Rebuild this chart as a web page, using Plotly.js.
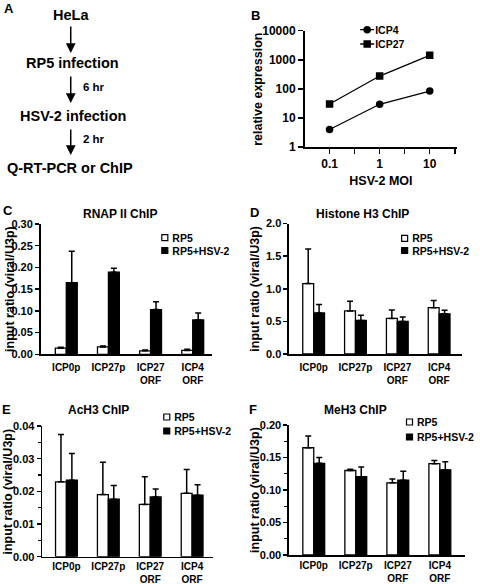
<!DOCTYPE html>
<html><head><meta charset="utf-8">
<script src="https://cdn.plot.ly/plotly-3.0.1.min.js"></script>
<style>
html,body{margin:0;padding:0;background:#fff}
/* compact square keys for the bar legends, close to their labels */
g.legendpoints path:not(.scatterpts){
  transform: translate(32.5px, 0px) scale(0.5) !important;
  stroke-width: 2.4px !important;
}
</style>
</head><body><div id="chart" style="width:480px;height:584px"></div>
<script>
// ---------- data ----------
const moi = [0.1, 1, 10];
const moiLabels = ['0.1', '1', '10'];
const icp4Expr = [4, 29.5, 84];
const icp27Expr = [30, 276, 1420];
const exprTicks = [1, 10, 100, 1000, 10000];
const exprTickLabels = ['1', '10', '100', '1000', '10000'];

const sites = ['ICP0p', 'ICP27p', 'ICP27<br>ORF', 'ICP4<br>ORF'];
const noLowerErr = [0, 0, 0, 0];

const rnapRP5 = [0.014, 0.017, 0.008, 0.009];
const rnapRP5Err = [0.002, 0.002, 0.002, 0.0025];
const rnapHSV = [0.165, 0.189, 0.103, 0.079];
const rnapHSVErr = [0.072, 0.009, 0.018, 0.016];

const h3RP5 = [1.08, 0.66, 0.545, 0.71];
const h3RP5Err = [0.53, 0.15, 0.13, 0.11];
const h3HSV = [0.63, 0.515, 0.5, 0.615];
const h3HSVErr = [0.13, 0.08, 0.066, 0.057];

const ach3RP5 = [0.0229, 0.0190, 0.0160, 0.0194];
const ach3RP5Err = [0.0145, 0.0099, 0.0085, 0.0073];
const ach3HSV = [0.0234, 0.0176, 0.0183, 0.0188];
const ach3HSVErr = [0.0082, 0.0042, 0.0024, 0.0032];

const meh3RP5 = [0.165, 0.130, 0.111, 0.1405];
const meh3RP5Err = [0.018, 0.002, 0.006, 0.005];
const meh3HSV = [0.141, 0.1205, 0.115, 0.131];
const meh3HSVErr = [0.009, 0.015, 0.014, 0.0125];

const seriesNames = ['RP5', 'RP5+HSV-2'];
const yTitleText = 'input ratio (viral/U3p)';

// ---------- helpers ----------
const W = 480, H = 584;
const fx = p => p / W;
const fy = p => 1 - p / H;
const FONT = '"Liberation Sans", Arial, Helvetica, sans-serif';

const axBase = {
  showline: true, linecolor: 'black', linewidth: 1.5,
  ticks: 'outside', tickcolor: 'black', tickwidth: 1.5, ticklen: 4,
  showgrid: false, zeroline: false, fixedrange: true,
  tickfont: {family: FONT, size: 11, weight: 'bold', color: 'black'}
};

function errBars(arr) {
  return {type: 'data', symmetric: false, array: arr, arrayminus: noLowerErr,
          color: 'black', thickness: 1.5, width: 3};
}
function barPair(xa, ya, legA, legB, a, aErr, b, bErr) {
  return [
    {type: 'bar', x: sites, y: a, name: seriesNames[0], xaxis: xa, yaxis: ya, legend: legA,
     marker: {color: 'white', line: {color: 'black', width: 1.3}}, error_y: errBars(aErr)},
    {type: 'bar', x: sites, y: b, name: seriesNames[1], xaxis: xa, yaxis: ya, legend: legB,
     marker: {color: 'black', line: {color: 'black', width: 1.3}}, error_y: errBars(bErr)}
  ];
}
// single-item legend: textX = left of the label text, cy = vertical centre of the item
function legendAt(textX, cy) {
  return {x: fx(textX - 37.5), y: fy(cy - 13.5), xanchor: 'left', yanchor: 'top',
          bgcolor: 'rgba(0,0,0,0)', borderwidth: 0, tracegroupgap: 0,
          font: {family: FONT, size: 10.5, weight: 'bold', color: 'black'}};
}

// ---------- traces ----------
const traces = [
  {type: 'scatter', mode: 'lines+markers', x: moi, y: icp4Expr, name: 'ICP4',
   xaxis: 'x', yaxis: 'y', legend: 'legend',
   line: {color: 'black', width: 1.3}, marker: {symbol: 'circle', size: 7.5, color: 'black'}},
  {type: 'scatter', mode: 'lines+markers', x: moi, y: icp27Expr, name: 'ICP27',
   xaxis: 'x', yaxis: 'y', legend: 'legend2',
   line: {color: 'black', width: 1.3}, marker: {symbol: 'square', size: 7.5, color: 'black'}},
  ...barPair('x2', 'y2', 'legend3', 'legend4', rnapRP5, rnapRP5Err, rnapHSV, rnapHSVErr),
  ...barPair('x3', 'y3', 'legend5', 'legend6', h3RP5, h3RP5Err, h3HSV, h3HSVErr),
  ...barPair('x4', 'y4', 'legend7', 'legend8', ach3RP5, ach3RP5Err, ach3HSV, ach3HSVErr),
  ...barPair('x5', 'y5', 'legend9', 'legend10', meh3RP5, meh3RP5Err, meh3HSV, meh3HSVErr)
];

// ---------- annotations ----------
const ann = [];
function txt(t, x, y, size, xanchor, angle) {
  ann.push({text: t, xref: 'paper', yref: 'paper', x: fx(x), y: fy(y),
            xanchor: xanchor || 'center', yanchor: 'middle', showarrow: false,
            textangle: angle || 0,
            font: {family: FONT, size: size, weight: 'bold', color: 'black'}});
}
function arrow(x, yTail, yTip) {
  ann.push({text: '', xref: 'paper', yref: 'paper', x: fx(x), y: fy(yTip),
            axref: 'pixel', ayref: 'pixel', ax: 0, ay: -(yTip - yTail),
            showarrow: true, arrowhead: 2, arrowsize: 1.3, arrowwidth: 1.5,
            arrowcolor: 'black', standoff: 0, startstandoff: 0});
}
// panel letters
txt('A', 2, 8, 13, 'left');
txt('B', 256, 15, 13, 'left');
txt('C', 1, 211, 13, 'left');
txt('D', 255, 212, 13, 'left');
txt('E', 0, 409, 13, 'left');
txt('F', 254, 409, 13, 'left');
// flowchart
txt('HeLa', 72.7, 15, 14.5);
arrow(72.7, 25, 53);
txt('RP5 infection', 74.7, 63, 14.5);
arrow(72.7, 75, 103);
txt('6 hr', 83, 87, 11.5, 'left');
txt('HSV-2 infection', 74.7, 116, 14.5);
arrow(72.7, 128, 155);
txt('2 hr', 83, 139, 11.5, 'left');
txt('Q-RT-PCR or ChIP', 72, 168, 14.5);
// panel titles
txt('RNAP II ChIP', 123.3, 213.5, 12);
txt('Histone H3 ChIP', 373, 213.5, 12);
txt('AcH3 ChIP', 101.7, 409.5, 12);
txt('MeH3 ChIP', 365, 409.5, 12);
// y-axis titles
txt('relative expression', 265, 89, 12.5, 'center', -90);
txt(yTitleText, 10, 289.2, 12.5, 'center', -90);
txt(yTitleText, 262, 288.8, 12.5, 'center', -90);
txt(yTitleText, 8.5, 491.3, 12.5, 'center', -90);
txt(yTitleText, 262, 490, 12.5, 'center', -90);

// ---------- layout ----------
const catTick = {family: FONT, size: 10, weight: 'bold', color: 'black'};
const catAxis = {...axBase, type: 'category', ticks: '', tickfont: catTick, ticklabelstandoff: 3};
const catAxisLow = {...catAxis, ticklabelstandoff: 0};
const layout = {
  width: W, height: H, margin: {l: 0, r: 0, t: 0, b: 0},
  paper_bgcolor: 'white', plot_bgcolor: 'rgba(0,0,0,0)',
  font: {family: FONT, size: 11, weight: 'bold', color: 'black'},
  barmode: 'group', bargap: 0.48, bargroupgap: 0,
  xaxis: {...axBase, type: 'log', anchor: 'y', domain: [fx(313), fx(470)], range: [-1.5, 1.55],
          tickmode: 'array', tickvals: moi, ticktext: moiLabels, ticklen: 5,
          tickfont: {family: FONT, size: 12, weight: 'bold', color: 'black'},
          minor: {tickmode: 'array', tickvals: [0.316, 3.16, 31.6], ticks: 'outside',
                  ticklen: 5, tickwidth: 1.5, tickcolor: 'black', showgrid: false},
          title: {text: 'HSV-2 MOI', standoff: 6,
                  font: {family: FONT, size: 12.5, weight: 'bold', color: 'black'}}},
  yaxis: {...axBase, type: 'log', anchor: 'x', domain: [fy(147), fy(30.7)], range: [0, 4],
          tickmode: 'array', tickvals: exprTicks, ticktext: exprTickLabels, ticklen: 5,
          tickfont: {family: FONT, size: 12, weight: 'bold', color: 'black'}},
  xaxis2: {...catAxis, anchor: 'y2', domain: [fx(41.7), fx(218)], range: [-0.61, 3.46]},
  yaxis2: {...axBase, anchor: 'x2', domain: [fy(354.3), fy(224)], range: [0, 0.30],
           dtick: 0.05, tick0: 0, tickformat: '.2f'},
  xaxis3: {...catAxis, anchor: 'y3', domain: [fx(297), fx(475)], range: [-0.59, 3.55]},
  yaxis3: {...axBase, anchor: 'x3', domain: [fy(354), fy(223.5)], range: [0, 2],
           dtick: 0.5, tick0: 0, tickformat: '.1f'},
  xaxis4: {...catAxisLow, anchor: 'y4', domain: [fx(43.3), fx(219)], range: [-0.58, 3.5]},
  yaxis4: {...axBase, anchor: 'x4', domain: [fy(556.7), fy(426)], range: [0, 0.04],
           dtick: 0.01, tick0: 0, tickformat: '.2f',
           minor: {dtick: 0.005, ticks: 'outside', ticklen: 3, tickwidth: 1.2, tickcolor: 'black'}},
  xaxis5: {...catAxisLow, anchor: 'y5', domain: [fx(297), fx(478)], range: [-0.59, 3.6]},
  yaxis5: {...axBase, anchor: 'x5', domain: [fy(555), fy(425)], range: [0, 0.20],
           dtick: 0.05, tick0: 0, tickformat: '.2f',
           minor: {dtick: 0.025, ticks: 'outside', ticklen: 3, tickwidth: 1.2, tickcolor: 'black'}},
  legend: legendAt(382, 28.7),
  legend2: legendAt(382, 43),
  legend3: legendAt(173.5, 236.7),
  legend4: legendAt(173.5, 249.5),
  legend5: legendAt(420, 237.3),
  legend6: legendAt(420, 249.5),
  legend7: legendAt(175.5, 416),
  legend8: legendAt(175.5, 430),
  legend9: legendAt(425, 421),
  legend10: legendAt(425, 436),
  annotations: ann,
  showlegend: true
};

function compactLineKeys() {
  // short line+marker keys for the panel B legend
  document.querySelectorAll('g.legendpoints path.scatterpts').forEach(p => {
    if (p.dataset.moved) return;
    const t = p.getAttribute('transform') || '';
    const m = /translate\(([-\d.]+)[ ,]+([-\d.]+)\)/.exec(t);
    const x0 = m ? parseFloat(m[1]) : 20;
    p.setAttribute('transform', 'translate(' + (x0 + 12) + ',0)');
    p.dataset.moved = '1';
  });
  document.querySelectorAll('g.legendlines path').forEach(p => {
    p.setAttribute('d', 'M25,0h14');
  });
}

Plotly.newPlot('chart', traces, layout, {staticPlot: true, displayModeBar: false})
  .then(compactLineKeys);
</script>
</body></html>
